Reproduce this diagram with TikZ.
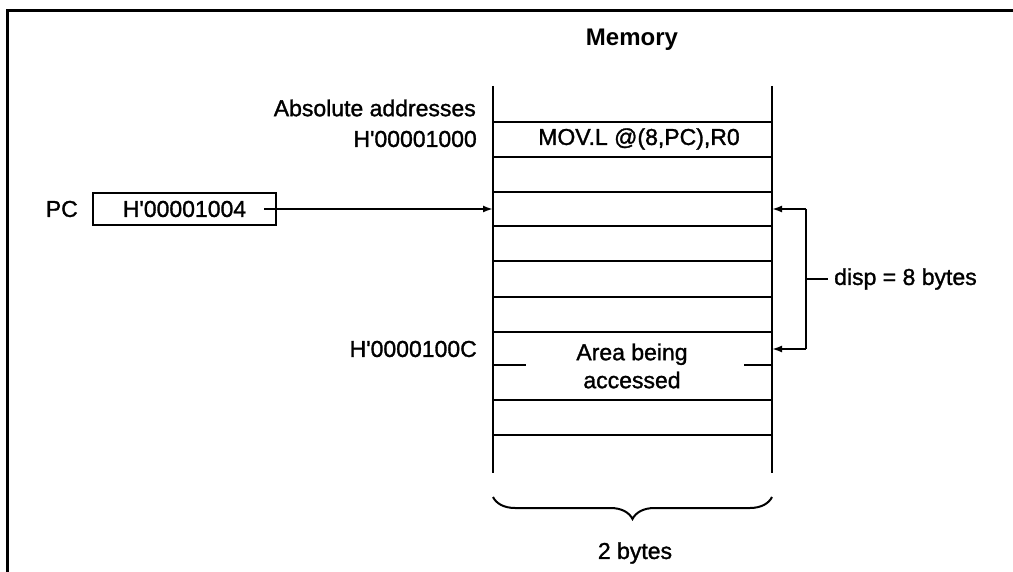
\documentclass[tikz,border=0pt]{standalone}
\usepackage{fontspec}
\setmainfont{Liberation Sans}
\newfontfamily\heavyfont[FakeBold=1.3]{Liberation Sans}
\usetikzlibrary{arrows.meta,decorations.pathreplacing}
\begin{document}
\begin{tikzpicture}[x=1pt,y=-1pt,
  lbl/.style={inner sep=0pt,font=\heavyfont\fontsize{23}{27}\selectfont},
  memline/.style={line width=2pt},
  arr/.style={line width=1.8pt,-{Latex[length=10pt,width=7pt]}},
  conn/.style={line width=1.8pt}]
\useasboundingbox (0,0) rectangle (1013,572);
% frame
\draw[line width=3pt] (7,572) -- (7,11) -- (1013,11);
% memory title
\node[inner sep=0pt,font=\fontsize{24}{28}\selectfont\bfseries] (mem) at (632,40) {Memory};
% memory columns
\draw[memline] (493,86) -- (493,473);
\draw[memline] (772,86) -- (772,473);
\foreach \yy in {121.7,156.7,191.7,226.5,261.5,296.7,331.7,400,435}
  \draw[memline] (493,\yy) -- (772,\yy);
% partial boundary in area row
\draw[memline] (493,365) -- (526,365);
\draw[memline] (744,365) -- (772,365);
% memory texts
\node[lbl] (instr) at (639,139) {MOV.L @(8,PC),R0};
\node[lbl,align=center,font=\heavyfont\fontsize{23}{28}\selectfont] (area) at (632,366) {Area being\\accessed};
% address labels
\node[lbl,anchor=east] (absaddr) at (476,108) {Absolute addresses};
\node[lbl,anchor=east] (a1000) at (477,139) {H'00001000};
\node[lbl,anchor=east] (a100c) at (477,349) {H'0000100C};
% PC register
\node[lbl,anchor=east] (pclbl) at (78,209) {PC};
\node[draw,line width=2pt,minimum width=183pt,minimum height=32pt,inner sep=0pt,
      font=\heavyfont\fontsize{23}{27}\selectfont] (pc) at (184.5,209) {H'00001004\hspace{12pt}};
\coordinate (pcin) at (493,209);
\draw[arr] ([xshift=-13pt]pc.east) -- (pcin);
% displacement bracket
\coordinate (br1) at (806,209);
\coordinate (br2) at (806,349);
\coordinate (m1) at (772,209);
\coordinate (m2) at (772,349);
\coordinate (brmid) at (806,279);
\draw[conn] (br1) -- (br2);
\draw[arr] (br1) -- (m1);
\draw[arr] (br2) -- (m2);
\node[lbl,anchor=west] (disp) at (834,279) {disp = 8 bytes};
\draw[conn] (brmid) -- ([xshift=-6pt]disp.west);
% brace
\coordinate (bl) at (493,497);
\coordinate (brr) at (772,497);
\draw[line width=2pt,decorate,decoration={brace,mirror,amplitude=22pt}] (bl) -- (brr);
\node[lbl] (twob) at (635,553) {2 bytes};
\end{tikzpicture}
\end{document}
